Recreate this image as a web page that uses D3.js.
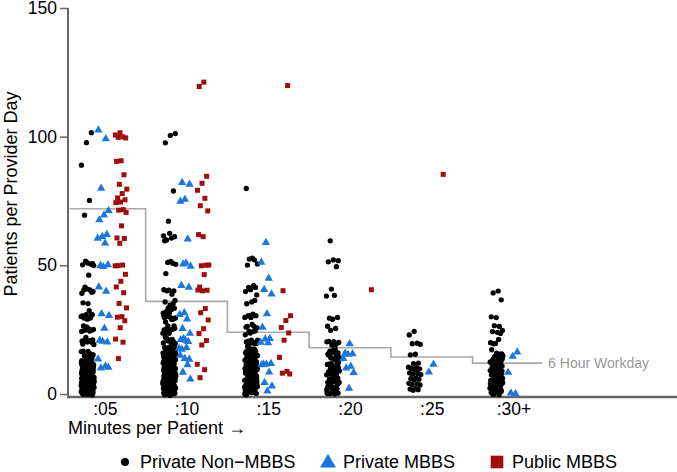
<!DOCTYPE html>
<html><head><meta charset="utf-8">
<script src="https://cdn.jsdelivr.net/npm/d3@7"></script>
<style>html,body{margin:0;padding:0;background:#fff;}svg{display:block;font-family:"Liberation Sans",Arial,sans-serif;}</style>
</head><body><svg id="c" width="677" height="472"></svg>
<script>
const categories = [":05", ":10", ":15", ":20", ":25", ":30+"];
const seriesNames = ["Private Non\u2212MBBS", "Private MBBS", "Public MBBS"];
const yTicks = [0, 50, 100, 150];
const workdayCap = [72, 36, 24, 18, 14.4, 12];
const workdayLabel = "6 Hour Workday";

const privateNonMBBS = [
  [101,98,89,75,69,51,51,50,50,52,50,46,40,40,41,39,40,42,40,35,35,31,31,30,32,30,31,29,30,30,26,25,25,27,25,26,24,25,25,21,20,20,21,22,19,20,21,20,20,20,16,15,15,16,17,15,14,16,15,15,15,
   13,12,12,11,11,10,10,10,10,9,9,9,8,8,8,8,7,7,7,7,6,6,6,6,6,5,5,5,5,5,4,4,4,4,4,3,3,3,3,3,2,2,2,2,2,2,1,1,1,1,1,1,0,0,0,0,0,0,12,11,10,9,8,7,6,5,4,3,2,1,0.5,1.5,2.5,3.5,4.5,5.5,6.5,7.5,8.5,9.5,10.5,11.5,12.5,13.5,
   13,12,11,10,9,8,7,6,5,4,3,2,1,0,12.5,11.5,10.5,9.5,8.5,7.5,6.5,5.5,4.5,3.5,2.5,1.5,0.5,10,8,6,4,2,0,9,7,5,3,1,11,13,12,10,8,6,4,2,
   13.5,12.5,11.5,10.5,9.5,8.5,7.5,6.5,5.5,4.5,3.5,2.5,1.5,0.5,13,11,9,7,5,3,1,12,10,8,6,4,2,0],
  [101,100,98,79,67,61,61,60,61,62,60,51,51,50,52,47,40,40,41,39,40,36,35,36,35,33,32,33,32,33,32,30,29,30,29,30,28,29,30,31,29,30,25,25,24,25,26,24,25,25,26,24,25,21,21,20,21,22,20,21,20,19,21,20,
   18,18,17,17,16,16,16,15,15,15,15,14,14,14,13,13,13,12,12,12,12,11,11,11,10,10,10,10,10,9,9,9,8,8,8,8,7,7,7,7,6,6,6,6,5,5,5,5,5,4,4,4,4,3,3,3,3,2,2,2,2,2,1,1,1,1,0,0,0,0,0,
   17.5,16.5,14.5,13.5,12.5,11.5,10.5,9.5,8.5,7.5,6.5,5.5,4.5,3.5,2.5,1.5,0.5,15.5,12.5,8.5,4.5,1.5,
   18,17,16,15,14,13,12,11,10,9,8,7,6,5,4,3,2,1,0,17.5,15.5,13.5,11.5,9.5,7.5,5.5,3.5,1.5,16,14,12,10,8,6,4,2,0,15,11,7,3,
   17,15,13,11,9,7,5,3,1,16.5,14.5,12.5,10.5,8.5,6.5,4.5,2.5,0.5,18,14,10,6,2],
  [80,52,52,51,53,50,41,41,40,42,41,39,36,35,36,31,30,31,30,31,30,26,26,25,26,27,26,24,24,23,24,20,20,21,20,19,20,21,20,
   18,17,17,16,16,15,15,15,14,14,13,13,12,12,12,11,11,10,10,10,9,9,9,8,8,8,7,7,7,6,6,6,5,5,5,5,4,4,4,3,3,3,2,2,2,1,1,1,0,0,0,
   17.5,16.5,14.5,13.5,11.5,10.5,9.5,8.5,7.5,6.5,5.5,4.5,3.5,2.5,1.5,0.5,12.5,7.5,3.5,
   18,16,14,12,10,8,6,4,2,0,17,15,13,11,9,7,5,3,1,15.5,10.5,5.5,0.5,13,9,5,1,
   16.5,14,12,10,8,6,4,2,0,11,7,3],
  [60,52,52,51,50,41,38,38,30,30,29,26,26,25,20,20,21,20,19,20,
   18,17,16,16,15,15,14,14,13,12,12,11,11,10,10,10,9,9,8,8,7,7,6,6,6,5,5,4,4,3,3,2,2,1,1,0,0,
   17.5,15.5,13.5,11.5,9.5,7.5,5.5,3.5,1.5,0.5,17,14,12,10,8,6,4,2,0,16,11,7,3,
   13,9,5,1,15,10,6,2],
  [24,23.5,20,19.5,19,16,15.5,12,11.5,11,10.5,10,9.5,9,8.5,8,7.5,7,6.5,6,5.5,5,4.5,4,3.5,3,2.5,2,1.5,1],
  [40,39,36,30,30,26,26,25,24,24,23,20,20,21,19,16,16,17,15,15,15,
   14,13,13,12,12,12,11,11,10,10,10,9,9,9,8,8,8,7,7,7,6,6,6,5,5,5,4,4,4,3,3,3,2,2,2,1,1,1,0,0,0,
   13.5,11.5,9.5,7.5,5.5,3.5,1.5,0.5,14,12,10,8,6,4,2,0,11,7,3,
   12.5,10.5,8.5,6.5,4.5,2.5,0.5,13,9,5,1]
];

const privateMBBS = [
  [102,99.5,80,71,69,68,62,61,60,59,50,50,49,42,40,31,30,26,21,20,20,14,11,10,10],
  [82,81,76,75,60,50,50,51,42,41,32,31,29,25,24,21,21,20,22,18,18,17,14,14,15,11,9,6],
  [59,51,44.5,41,39,31,25.5,22,21.5,20,19.5,12,12,11.5,11,9,4.7,3,0.8],
  [20,16,15.5,15,14.3,11,10,8,2.7],
  [11.2,9],
  [16.3,14.3,7.8,0.4,0.4]
];

const publicMBBS = [
  [101,101,100,99.5,99,91,90.5,85,81,80,78,76,75,75,74.5,71.5,71,71,65.5,60.5,60,59,50,50,49.5,47,44,41.5,39,35.7,33.7,30,29.5,29,26,21.3,19.8,14.3],
  [121,119,85,82,79,75.6,73.6,71.3,61,61.5,50.5,50,50,46,42,40.5,40,40,33.7,31.8,28.7,25,24,21,19,11.2,10,6.6],
  [120,40,30,29,26,23.6,20.5,14.7,9,8,7.4],
  [41],
  [85],
  []
];

const svg = d3.select("#c");
const x = d3.scaleLinear().domain([0.55, 8]).range([68, 677]);
const y = d3.scaleLinear().domain([0, 150]).range([394, 8]);
const gray = "#666";
const FONT = "Liberation Sans, Arial, sans-serif";

// axes
const yAxis = d3.axisLeft(y).tickValues(yTicks).tickSize(8).tickPadding(3);
const gy = svg.append("g").attr("transform", "translate(68,0)").call(yAxis);
gy.select(".domain").attr("stroke", gray).attr("stroke-width", 2).attr("d", "M0," + y(150) + "V397");
gy.selectAll(".tick line").attr("stroke", gray).attr("stroke-width", 1.5);
gy.selectAll(".tick text").attr("font-size", 17.5).attr("fill", "#000").attr("font-family", FONT);

const xAxis = d3.axisBottom(x).tickValues(d3.range(1, categories.length + 1)).tickFormat((d, i) => categories[i]).tickSize(0).tickPadding(6);
const gx = svg.append("g").attr("transform", "translate(0,397)").call(xAxis);
gx.select(".domain").attr("stroke", gray).attr("stroke-width", 2.5).attr("d", "M67,0H677");
gx.selectAll(".tick text").attr("font-size", 17.5).attr("fill", "#000").attr("font-family", FONT);

svg.append("text").attr("x", 68).attr("y", 434).attr("font-size", 18).text("Minutes per Patient \u2192");
svg.append("text").attr("transform", "translate(17,194) rotate(-90)").attr("text-anchor", "middle").attr("font-size", 18).text("Patients per Provider Day");

// workday step line
const stepPts = [[0.57, workdayCap[0]]].concat(workdayCap.map((v, i) => [i + 1, v])).concat([[6.35, workdayCap[workdayCap.length - 1]]]);
svg.append("path").attr("fill", "none").attr("stroke", "#aaa").attr("stroke-width", 1.6)
  .attr("d", d3.line().x(d => x(d[0])).y(d => y(d[1])).curve(d3.curveStep)(stepPts));
svg.append("text").attr("x", x(6.35) + 6).attr("y", y(workdayCap[5]) + 5).attr("font-size", 14).attr("fill", "#999").text(workdayLabel);

// jittered points
const offsets = [-0.21, -0.02, 0.2];
const spread = [6.5, 6, 6];
const colors = ["#000000", "#1a78dd", "#a00d0d"];
const sym = [d3.symbol().type(d3.symbolCircle).size(22), d3.symbol().type(d3.symbolTriangle).size(30), d3.symbol().type(d3.symbolSquare).size(25)];
const all = [privateNonMBBS, privateMBBS, publicMBBS];
all.forEach((ser, s) => {
  const pts = [];
  ser.forEach((vals, c) => vals.forEach((v, i) => pts.push({c: c + 1, v, i})));
  svg.append("g").selectAll("path").data(pts).join("path")
    .attr("d", sym[s]())
    .attr("fill", colors[s])
    .attr("transform", d => {
      const jx = (((d.i + 1) * 0.6180339887 + s * 0.31 + d.c * 0.17) % 1 - 0.5) * 2 * spread[s];
      const jy = (((d.i + 1) * 0.7548776662 + d.c * 0.29) % 1 - 0.5) * 3;
      return "translate(" + (x(d.c + offsets[s]) + jx) + "," + (y(d.v) + jy) + ")";
    });
});

// legend
const lg = svg.append("g");
const legX = [125, 328, 497];
const legSym = [d3.symbol().type(d3.symbolCircle).size(50), d3.symbol().type(d3.symbolTriangle).size(110), d3.symbol().type(d3.symbolSquare).size(160)];
seriesNames.forEach((n, i) => {
  lg.append("path").attr("d", legSym[i]()).attr("fill", colors[i]).attr("transform", "translate(" + legX[i] + "," + (i === 1 ? 463 : 462) + ")");
  lg.append("text").attr("x", legX[i] + 15).attr("y", 468).attr("font-size", 18).text(n);
});
</script></body></html>
